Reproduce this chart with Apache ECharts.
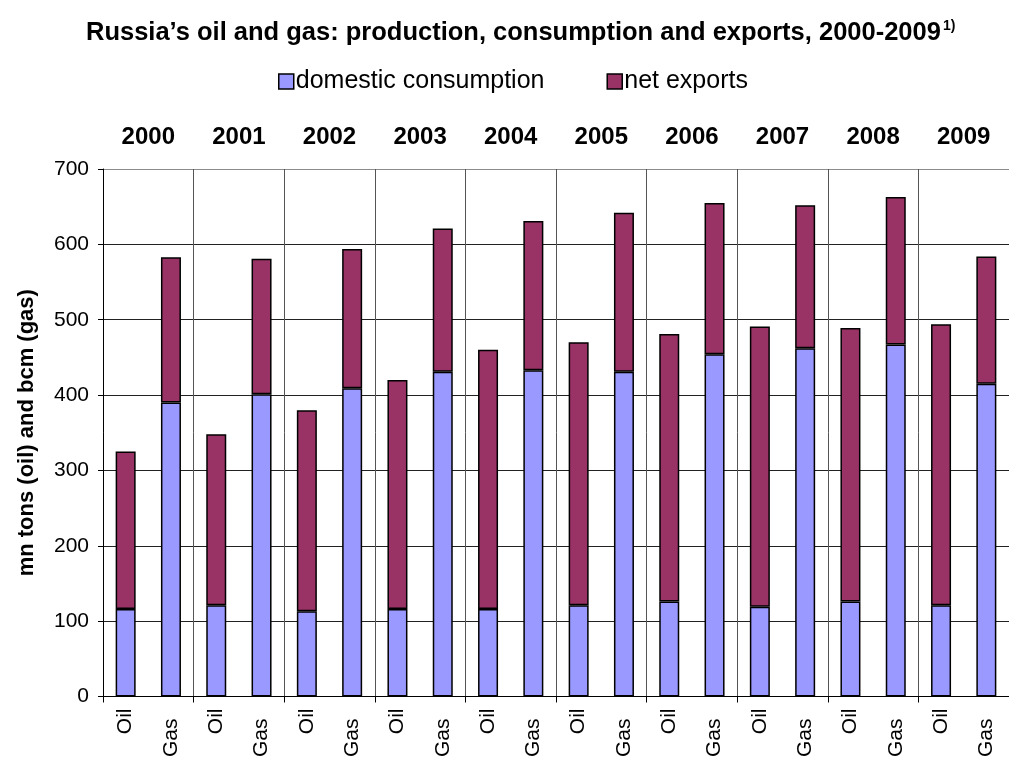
<!DOCTYPE html>
<html>
<head>
<meta charset="utf-8">
<script src="https://cdn.jsdelivr.net/npm/echarts@6/dist/echarts.min.js"></script>
<style>
  html, body { margin: 0; padding: 0; background: #fff; }
  #chart { width: 1009px; height: 760px; }
</style>
</head>
<body>
<div id="chart"></div>
<script>
const years = ['2000', '2001', '2002', '2003', '2004', '2005', '2006', '2007', '2008', '2009']
const fuels = ['Oil', 'Gas']
// one entry per bar: Oil, Gas for each year
const domestic = [116, 390, 121, 401, 113, 409, 116, 431, 116, 433, 121, 431, 126, 454, 119, 462, 126, 467, 121, 415]
const netExports = [209, 193, 227, 180, 267, 185, 304, 190, 344, 198, 349, 211, 355, 201, 372, 190, 363, 196, 373, 169]
const yTicks = [0, 100, 200, 300, 400, 500, 600, 700]

const categories = []
years.forEach(() => fuels.forEach(f => categories.push(f)))

const font = '"Liberation Sans", Arial, sans-serif'
const groupEdge = (i) => i % 2 === 0
// gridlines are black, the top border of the plot is grey
const gridColors = yTicks.map((t, i) => i === yTicks.length - 1 ? '#8c8c8c' : '#222')

const chart = echarts.init(document.getElementById('chart'))
chart.setOption({
  animation: false,
  textStyle: { fontFamily: font, color: '#000' },
  title: {
    text: '{t|Russia’s oil and gas: production, consumption and exports, 2000-2009}{s|1)}',
    left: 81,
    top: 14,
    textStyle: {
      rich: {
        t: { fontFamily: font, fontSize: 25.5, fontWeight: 'bold', color: '#000' },
        s: { fontFamily: font, fontSize: 14, color: '#000', padding: [0, 0, 13, 2] }
      }
    }
  },
  legend: {
    left: 273,
    top: 64,
    itemGap: 62,
    itemWidth: 15,
    itemHeight: 15,
    icon: 'rect',
    textStyle: { fontFamily: font, fontSize: 25, color: '#000', padding: [0, 0, 0, -3] },
    data: [
      { name: 'domestic consumption', itemStyle: { borderColor: '#000', borderWidth: 1.5 } },
      { name: 'net exports', itemStyle: { borderColor: '#000', borderWidth: 1.5 } }
    ]
  },
  grid: { left: 103, right: -7, top: 169, bottom: 59 },
  xAxis: [
    {
      type: 'category',
      data: categories,
      position: 'bottom',
      axisLine: { lineStyle: { color: '#000', width: 1 } },
      axisTick: { show: true, interval: groupEdge, length: 6, lineStyle: { color: '#000' } },
      axisLabel: {
        interval: 0,
        rotate: 90,
        fontSize: 21,
        margin: 12,
        color: '#000',
        formatter: (v) => v === 'Gas' ? '{g|' + v + '}' : v,
        rich: { g: { fontSize: 21, fontFamily: font, color: '#000', padding: [0, 10, 0, 0] } }
      },
      splitLine: { show: true, interval: groupEdge, lineStyle: { color: '#555', width: 1 } }
    },
    {
      type: 'category',
      data: years,
      position: 'top',
      axisLine: { show: false },
      axisTick: { show: false },
      axisLabel: { interval: 0, fontSize: 24, fontWeight: 'bold', margin: 20, color: '#000' }
    }
  ],
  yAxis: {
    type: 'value',
    min: yTicks[0],
    max: yTicks[yTicks.length - 1],
    interval: 100,
    name: 'mn tons (oil) and bcm (gas)',
    nameLocation: 'middle',
    nameGap: 65,
    nameTextStyle: { fontSize: 22, fontWeight: 'bold', color: '#000' },
    axisLine: { show: true, lineStyle: { color: '#000' } },
    axisTick: { show: true, length: 5, lineStyle: { color: '#000' } },
    axisLabel: { fontSize: 21, margin: 14, color: '#000' },
    splitLine: { lineStyle: { color: gridColors, width: 1 } }
  },
  series: [
    {
      name: 'domestic consumption',
      type: 'bar',
      stack: 'total',
      barWidth: 20,
      data: domestic,
      itemStyle: { color: '#9999FF', borderColor: '#000', borderWidth: 1.5 }
    },
    {
      name: 'net exports',
      type: 'bar',
      stack: 'total',
      barWidth: 20,
      data: netExports,
      itemStyle: { color: '#993366', borderColor: '#000', borderWidth: 1.5 }
    }
  ]
})
</script>
</body>
</html>
